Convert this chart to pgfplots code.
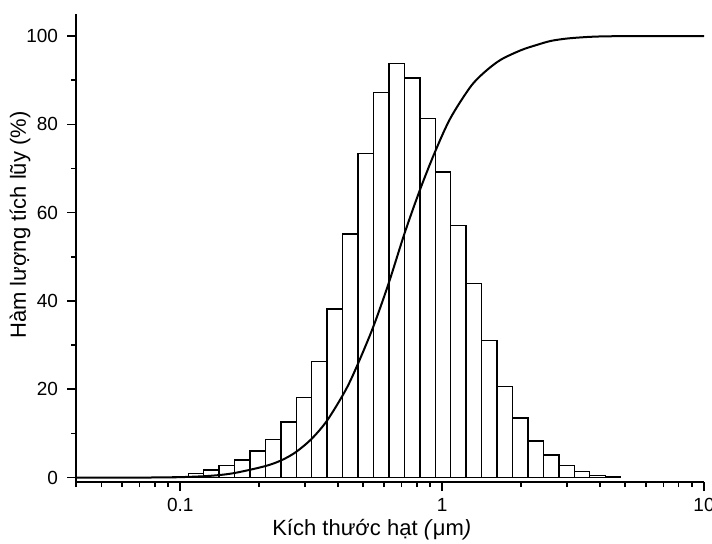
\documentclass[border=0pt]{standalone}
\usepackage{pgfplots}
\pgfplotsset{compat=1.18}
\usepackage{fontspec}
\setmainfont{Liberation Sans}

\begin{document}
\begin{tikzpicture}
\begin{axis}[
  name=ax,
  scale only axis,
  width=314pt, height=234pt,
  xmode=log,
  xmin=0.04, xmax=10,
  ymin=-1, ymax=105,
  axis x line*=bottom,
  axis y line*=left,
  axis line style={line width=1pt, black},
  tick align=outside,
  major tick length=4.5pt,
  minor tick length=2.5pt,
  every tick/.style={line width=0.8pt, black},
  xtick={0.1,1,10},
  xticklabels={0.1,1,10},
  minor xtick={0.04,0.05,0.06,0.07,0.08,0.09,0.2,0.3,0.4,0.5,0.6,0.7,0.8,0.9,2,3,4,5,6,7,8,9},
  ytick={0,20,40,60,80,100},
  minor ytick={10,30,50,70,90},
  /pgf/number format/assume math mode=true,
  tick label style={font=\fontsize{9.5}{11}\selectfont},
  yticklabel style={xshift=-1pt},
  xlabel={Kích thước hạt \textit{(}μm\textit{)}},
  ylabel={Hàm lượng tích lũy (\%)},
  label style={font=\fontsize{11}{13}\selectfont},
  xlabel style={at={(axis description cs:0.471,-0.1026)}, anchor=center},
  ylabel style={at={(axis description cs:-0.089,0.549)}, anchor=center},
  clip=false,
]

% histogram (bin edges, bar heights)
\addplot[ybar interval, fill=white, draw=black, line width=0.65pt] coordinates {
  (0.09361,0.3) (0.10723,0.85) (0.12284,1.7) (0.14071,2.7) (0.16119,4.0)
  (0.18464,6.0) (0.21151,8.7) (0.24229,12.6) (0.27755,18.2) (0.31793,26.3)
  (0.36392,38.2) (0.41686,55.2) (0.47756,73.4) (0.54700,87.2) (0.62662,93.8)
  (0.71780,90.5) (0.82228,81.3) (0.94143,69.2) (1.0783,57.1) (1.2353,44.0)
  (1.4150,31.0) (1.6209,20.7) (1.8568,13.5) (2.1270,8.3) (2.4365,5.1)
  (2.7910,2.8) (3.1972,1.4) (3.6624,0.55) (4.1953,0.2) (4.8058,0)
};

% cumulative curve
\addplot[smooth, black, line width=1pt, tension=0.5] coordinates {
  (0.04,0) (0.0768,0.02) (0.1,0.1) (0.1302,0.4) (0.1599,1.0) (0.2113,2.6)
  (0.2450,4.0) (0.2767,5.8) (0.3166,8.7) (0.3636,12.9) (0.4271,19.7) (0.4733,25.3)
  (0.5447,34.0) (0.6250,44.0) (0.7178,55.2) (0.8210,65.0) (0.9369,73.6)
  (1.0757,81.4) (1.2828,88.5) (1.4500,91.8) (1.6702,94.6) (2.0000,96.8)
  (2.3000,98.0) (2.6000,98.9) (3.0040,99.45) (3.6000,99.8) (4.2710,99.95)
  (6.0000,100) (10,100)
};
\end{axis}
\pgfresetboundingbox
\path[use as bounding box] ([xshift=-38pt,yshift=-30.5pt]ax.south west)
  rectangle ([xshift=318pt,yshift=241pt]ax.south west);
\end{tikzpicture}
\end{document}
